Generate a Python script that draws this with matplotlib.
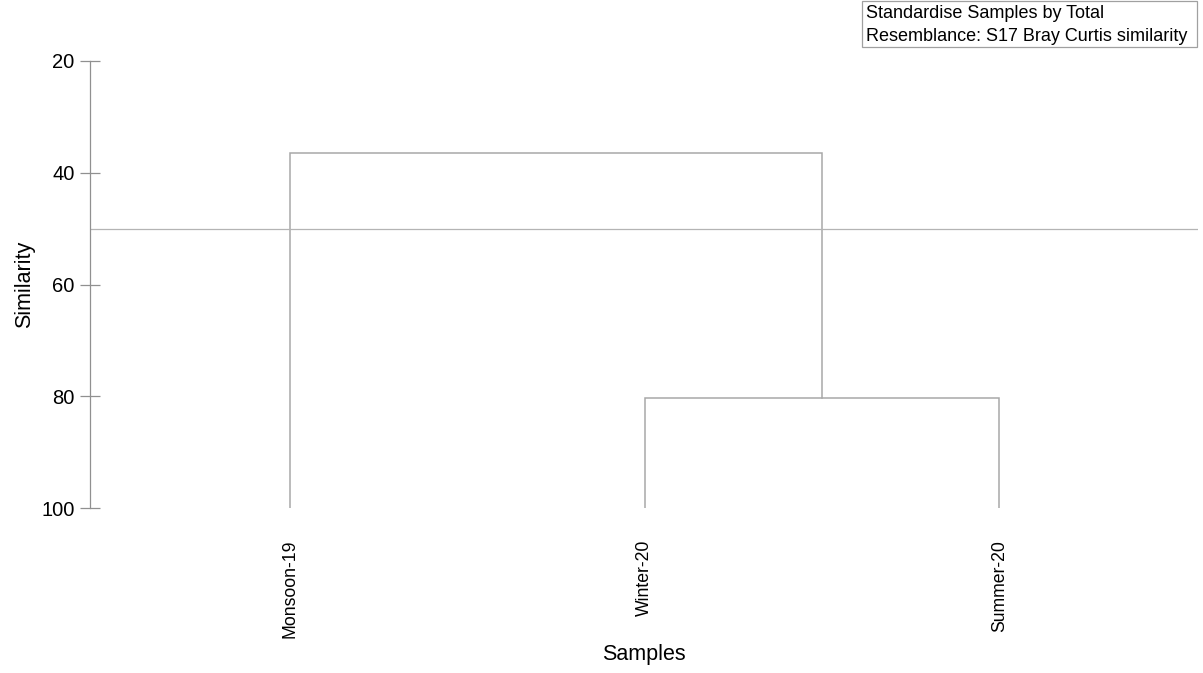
import matplotlib
matplotlib.use("Agg")
import matplotlib.pyplot as plt
from matplotlib.patches import Rectangle

plt.rcParams['font.family'] = ['Liberation Sans', 'DejaVu Sans']

# samples, in dendrogram leaf order
samples = ["Monsoon-19", "Winter-20", "Summer-20"]
# group average clustering: (left, right, similarity) ; clusters >= 3 are earlier merges
merges = [(1, 2, 80.4), (0, 3, 36.4)]
cut_level = 50
yticks = [20, 40, 60, 80, 100]

line_col = "#a8a8a8"

fig = plt.figure(figsize=(12.03, 6.73), dpi=100)
ax = fig.add_axes([90 / 1203, 1 - 508 / 673, 1108 / 1203, 447 / 673])

# x position and height of every node
xpos = {i: i + 1 for i in range(len(samples))}
ypos = {i: 100 for i in range(len(samples))}
for k, (a, b, h) in enumerate(merges):
    ax.plot([xpos[a], xpos[a], xpos[b], xpos[b]], [ypos[a], h, h, ypos[b]],
            color=line_col, lw=1.1, solid_joinstyle='miter')
    node = len(samples) + k
    xpos[node] = (xpos[a] + xpos[b]) / 2
    ypos[node] = h

ax.axhline(cut_level, color="#b4b4b4", lw=0.9)

ax.set_xlim(0.437, 3.56)
ax.set_ylim(100, 20)
ax.set_yticks(yticks)
ax.set_yticklabels([str(t) for t in yticks], fontsize=14.5)
ax.tick_params(axis='y', direction='inout', length=14, width=0.9, color="#909090", pad=4)
ax.set_xticks([xpos[i] for i in range(len(samples))])
ax.set_xticklabels(samples, rotation=90, fontsize=12.7, va='top')
ax.tick_params(axis='x', length=0, pad=23)

for s in ["top", "right", "bottom"]:
    ax.spines[s].set_visible(False)
ax.spines["left"].set_color("#909090")
ax.spines["left"].set_linewidth(0.9)

ax.set_ylabel("Similarity", fontsize=15.5)
ax.yaxis.set_label_coords(-0.05, 0.5)
ax.set_xlabel("Samples", fontsize=15.5)
ax.xaxis.set_label_coords(0.5, -0.304)

# info box in the top right corner
fig.patches.append(Rectangle((862 / 1203, 1 - 47 / 673), 335 / 1203, 46.5 / 673,
                             transform=fig.transFigure, fc='white', ec='#a0a0a0', lw=0.9))
fig.text(866 / 1203, 1 - 5 / 673, "Standardise Samples by Total\nResemblance: S17 Bray Curtis similarity",
         fontsize=13, ha='left', va='top', linespacing=1.45)

fig.savefig("out.png", dpi=100)
